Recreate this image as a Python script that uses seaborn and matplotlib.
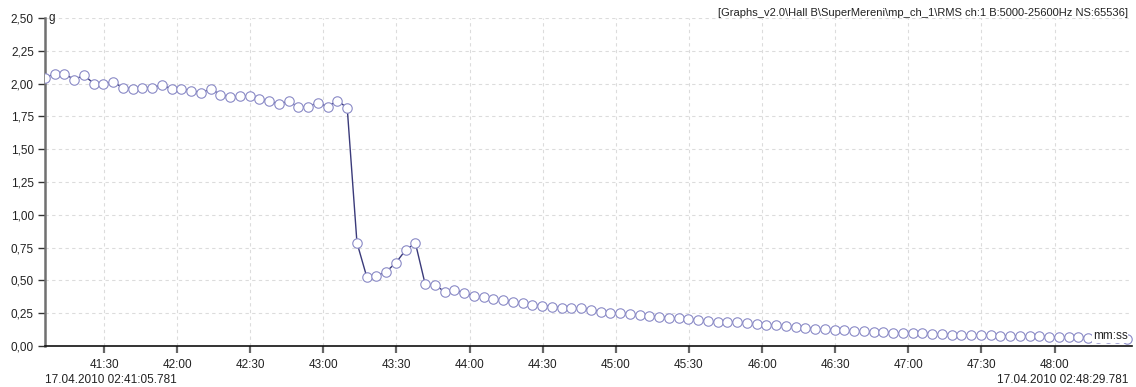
import numpy as np
import pandas as pd
import matplotlib
matplotlib.use('Agg')
import matplotlib.pyplot as plt
import seaborn as sns
from matplotlib.ticker import FixedLocator, FuncFormatter

# RMS acceleration in g, one sample every 4 s starting 17.04.2010 02:41:05.781
rms_g = [
    2.045, 2.075, 2.075, 2.03, 2.065, 2.00, 2.00, 2.01, 1.97, 1.96,
    1.97, 1.97, 1.99, 1.96, 1.96, 1.945, 1.93, 1.96, 1.915, 1.895,
    1.905, 1.905, 1.88, 1.865, 1.845, 1.865, 1.82, 1.825, 1.855, 1.825,
    1.87, 1.815,
    0.787, 0.528, 0.536, 0.566, 0.635, 0.732, 0.783, 0.47, 0.465, 0.414,
    0.429, 0.404, 0.383,
    0.371, 0.356, 0.348, 0.333, 0.33, 0.312, 0.307, 0.30, 0.29, 0.287,
    0.287, 0.274, 0.261, 0.254, 0.254, 0.242, 0.236, 0.229, 0.221, 0.216,
    0.211, 0.203, 0.20, 0.188, 0.181, 0.183, 0.181, 0.173, 0.165, 0.16,
    0.16,
    0.151, 0.143, 0.137, 0.132, 0.127, 0.124, 0.119, 0.114, 0.112, 0.109,
    0.104, 0.102, 0.099, 0.099, 0.097, 0.094, 0.091, 0.086,
    0.086, 0.084, 0.084, 0.082, 0.079, 0.079, 0.077, 0.074, 0.074, 0.071,
    0.069, 0.069, 0.066, 0.064, 0.062, 0.060, 0.058, 0.055,
]
sample_step_s = 4.0
start_offset_s = 41 * 60 + 5.781          # mm:ss of first sample
tick_labels = ['41:30', '42:00', '42:30', '43:00', '43:30', '44:00', '44:30',
               '45:00', '45:30', '46:00', '46:30', '47:00', '47:30', '48:00']
y_ticks = [0.0, 0.25, 0.5, 0.75, 1.0, 1.25, 1.5, 1.75, 2.0, 2.25, 2.5]
start_label = '17.04.2010 02:41:05.781'
end_label = '17.04.2010 02:48:29.781'
title_text = '[Graphs_v2.0\\Hall B\\SuperMereni\\mp_ch_1\\RMS ch:1 B:5000-25600Hz NS:65536]'

df = pd.DataFrame({'t': np.arange(len(rms_g)) * sample_step_s, 'g': rms_g})

sns.set_style('white')
plt.rcParams['font.family'] = ['Liberation Sans', 'DejaVu Sans']

fig = plt.figure(figsize=(11.36, 3.87), dpi=100)
ax = fig.add_axes([45 / 1136, 1 - 346 / 387, 1087 / 1136, 328 / 387])

sns.lineplot(data=df, x='t', y='g', ax=ax, color='#3a3a7a', linewidth=1.0,
             marker='o', markersize=6.8, markerfacecolor='white',
             markeredgecolor='#8a8ac6', markeredgewidth=0.8, zorder=3)

ax.set_xlim(0, 446)
ax.set_ylim(0, 2.5)

# x ticks on whole half-minutes
def to_seconds(m):
    mm, ss = m.split(':')
    return int(mm) * 60 + int(ss) - start_offset_s
ax.xaxis.set_major_locator(FixedLocator([to_seconds(l) for l in tick_labels]))
ax.set_xticklabels(tick_labels)
ax.set_yticks(y_ticks)
ax.yaxis.set_major_formatter(FuncFormatter(lambda v, p: f'{v:.2f}'.replace('.', ',')))

ax.grid(True, color='#dcdcdc', linestyle=(0, (3, 3)), linewidth=0.8)
ax.set_axisbelow(True)
for s in ['top', 'right']:
    ax.spines[s].set_visible(False)
ax.spines['left'].set_color('#707070')
ax.spines['left'].set_linewidth(1.8)
ax.spines['bottom'].set_color('#111111')
ax.spines['bottom'].set_linewidth(1.2)

ax.tick_params(axis='y', direction='out', length=5, width=1, color='#333333',
               labelsize=8.5, labelcolor='#222222', pad=3, left=True)
ax.tick_params(axis='x', direction='out', length=5, width=1.6, color='#666666',
               labelsize=8.5, labelcolor='#222222', pad=4, bottom=True)
ax.set_xlabel('')
ax.set_ylabel('')

ax.text(0.003, 1.0, 'g', transform=ax.transAxes, fontsize=8.5, color='#222222',
        ha='left', va='center')
ax.text(0.996, 0.012, 'mm:ss', transform=ax.transAxes, fontsize=8.5,
        color='#222222', ha='right', va='bottom', zorder=5,
        bbox=dict(facecolor='white', edgecolor='none', pad=0.5))

fig.text(1128 / 1136, 1 - 13 / 387, title_text, fontsize=8, color='#222222',
         ha='right', va='center')
fig.text(45 / 1136, 1 - 380 / 387, start_label, fontsize=8.5, color='#222222',
         ha='left', va='center')
fig.text(1128 / 1136, 1 - 380 / 387, end_label, fontsize=8.5, color='#222222',
         ha='right', va='center')

fig.savefig('out.png', dpi=100)
